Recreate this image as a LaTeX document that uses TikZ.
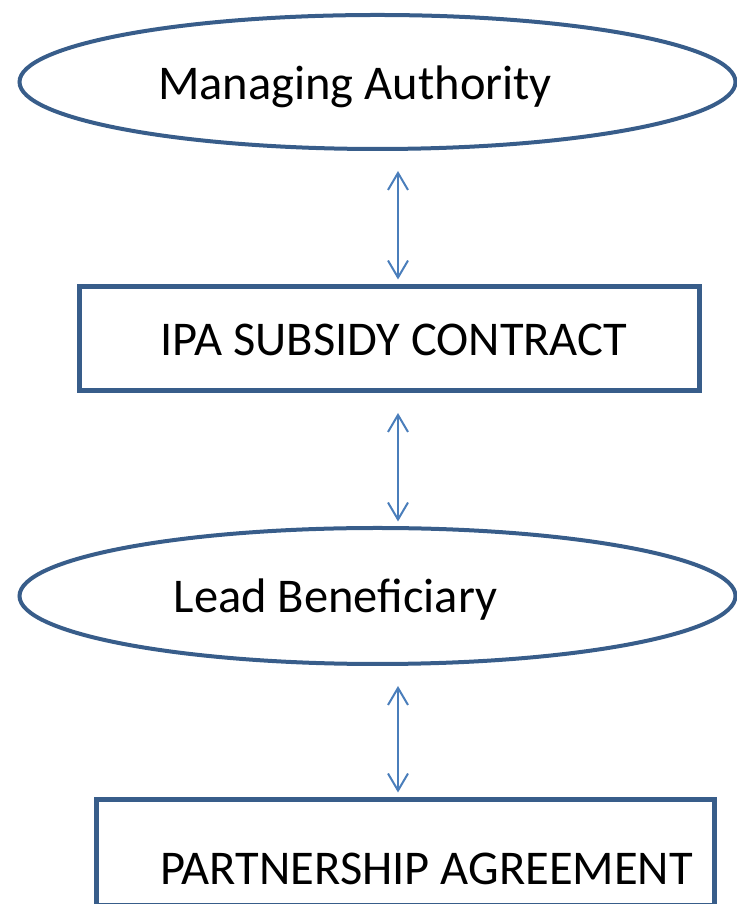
\documentclass[tikz,border=0pt]{standalone}
\usepackage{fontspec}
\setmainfont{Carlito}
\usetikzlibrary{arrows.meta,shapes.geometric}
\definecolor{shapeblue}{HTML}{385D8A}
\definecolor{arrowblue}{HTML}{4A7EBB}
\tikzset{
  ellbox/.style={ellipse, draw=shapeblue, line width=4pt, inner sep=0pt, minimum width=716pt},
  rectbox/.style={rectangle, draw=shapeblue, line width=5pt, inner sep=0pt},
  lbl/.style={font=\fontsize{48.5}{52}\selectfont, anchor=base, inner sep=0pt},
  arr/.style={draw=arrowblue, line width=2pt,
    {Straight Barb[length=17pt,width=20pt,line width=2pt]}-{Straight Barb[length=17pt,width=20pt,line width=2pt]},
    shorten <=20pt, shorten >=4.5pt}
}
\begin{document}
\begin{tikzpicture}[x=1pt,y=1pt]
\useasboundingbox (0,0) rectangle (736,904);
\coordinate (ax) at (398,0);
\node[ellbox, minimum height=134pt] (ma) at (377.5,822) {};
\node[rectbox, minimum width=620pt, minimum height=104pt] (ipa) at (389.5,565.5) {};
\node[ellbox, minimum height=136pt] (lb) at (377.5,308) {};
\node[rectbox, minimum width=618pt, minimum height=106.5pt] (pa) at (405.5,51.25) {};
\node[lbl] (mat) at (355,804) {Managing Authority};
\node[lbl] (ipat) at (394,548) {IPA SUBSIDY CONTRACT};
\node[lbl] (lbt) at (335.5,291) {Lead Beneficiary};
\node[lbl] (pat) at (426.5,19) {PARTNERSHIP AGREEMENT};
\draw[arr] (ma.south -| ax) -- (ipa.north -| ax);
\draw[arr] (ipa.south -| ax) -- (lb.north -| ax);
\draw[arr] (lb.south -| ax) -- (pa.north -| ax);
\end{tikzpicture}
\end{document}
